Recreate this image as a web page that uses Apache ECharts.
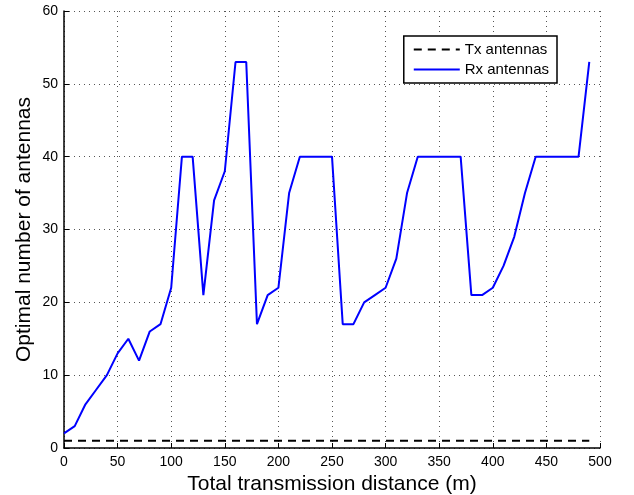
<!DOCTYPE html>
<html>
<head>
<meta charset="utf-8">
<script src="https://cdn.jsdelivr.net/npm/echarts@6/dist/echarts.min.js"></script>
<style>
html, body { margin: 0; padding: 0; background: #fff; }
#chart { width: 634px; height: 495px; }
</style>
</head>
<body>
<div id="chart"></div>
<script>
// distances (m)
const distance = [0, 10, 20, 30, 40, 50, 60, 70, 80, 90, 100, 110, 120, 130, 140, 150, 160, 170, 180, 190,
    200, 210, 220, 230, 240, 250, 260, 270, 280, 290, 300, 310, 320, 330, 340, 350, 360, 370, 380, 390,
    400, 410, 420, 430, 440, 450, 460, 470, 480, 490];
const txAntennas = distance.map(() => 1);
const rxAntennas = [2, 3, 6, 8, 10, 13, 15, 12, 16, 17, 22, 40, 40, 21, 34, 38, 53, 53, 17, 21,
    22, 35, 40, 40, 40, 40, 17, 17, 20, 21, 22, 26, 35, 40, 40, 40, 40, 40, 21, 21,
    22, 25, 29, 35, 40, 40, 40, 40, 40, 53];

const font = 'Liberation Sans, Arial, sans-serif';
const gridLine = { show: true, lineStyle: { color: '#555', type: [1, 4], width: 1 } };

const chart = echarts.init(document.getElementById('chart'));
chart.setOption({
    animation: false,
    backgroundColor: '#fff',
    grid: { left: 64, right: 34, top: 11, bottom: 47, outerBoundsMode: 'none' },
    legend: {
        orient: 'vertical',
        right: 77,
        top: 36,
        itemWidth: 46,
        itemHeight: 10,
        itemGap: 5,
        padding: [6, 8, 6, 9],
        borderColor: '#000',
        borderWidth: 1.5,
        backgroundColor: '#fff',
        itemStyle: { opacity: 0 },
        textStyle: { fontFamily: font, fontSize: 15, color: '#000' },
        data: ['Tx antennas', 'Rx antennas'],
    },
    xAxis: {
        type: 'value',
        min: 0, max: 500, interval: 50,
        name: 'Total transmission distance (m)',
        nameLocation: 'middle',
        nameGap: 25,
        nameTextStyle: { fontFamily: font, fontSize: 21, color: '#000' },
        axisLine: { lineStyle: { color: '#000', width: 1.5 } },
        axisTick: { inside: true, length: 5, lineStyle: { color: '#000' } },
        axisLabel: { fontFamily: font, fontSize: 14, color: '#000', margin: 7 },
        splitLine: gridLine,
    },
    yAxis: {
        type: 'value',
        min: 0, max: 60, interval: 10,
        name: 'Optimal number of antennas',
        nameLocation: 'middle',
        nameGap: 29,
        nameMoveOverlap: false,
        nameTextStyle: { fontFamily: font, fontSize: 21, color: '#000' },
        axisLine: { show: true, lineStyle: { color: '#000', width: 1.5 } },
        axisTick: { show: true, inside: true, length: 5, lineStyle: { color: '#000' } },
        axisLabel: { fontFamily: font, fontSize: 14, color: '#000', margin: 6 },
        splitLine: gridLine,
    },
    series: [
        {
            name: 'Tx antennas',
            type: 'line',
            symbol: 'none',
            data: distance.map((d, i) => [d, txAntennas[i]]),
            lineStyle: { color: '#000', width: 2, type: [8, 6] },
            itemStyle: { color: '#000' },
        },
        {
            name: 'Rx antennas',
            type: 'line',
            symbol: 'none',
            data: distance.map((d, i) => [d, rxAntennas[i]]),
            lineStyle: { color: '#0000ff', width: 2 },
            itemStyle: { color: '#0000ff' },
        },
    ],
});
</script>
</body>
</html>
